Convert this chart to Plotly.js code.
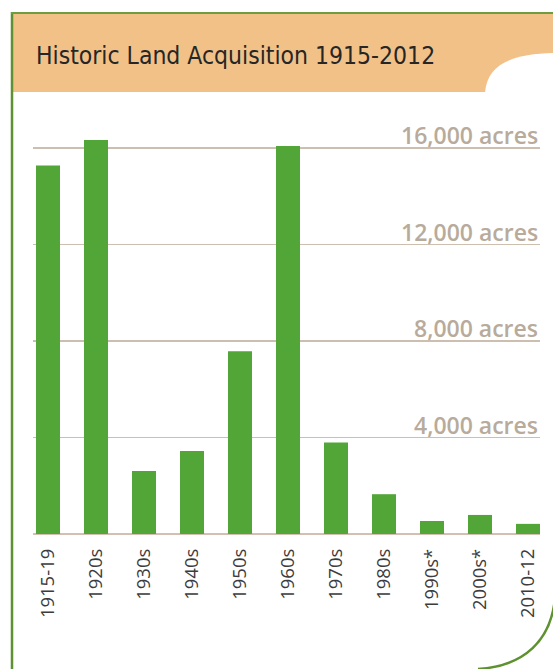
<!DOCTYPE html>
<html>
<head>
<meta charset="utf-8">
<script src="https://cdn.plot.ly/plotly-3.0.1.min.js"></script>
<style>html,body{margin:0;padding:0;background:#fff;}#chart{width:553px;height:669px;}</style>
</head>
<body>
<div id="chart"></div>
<script>
// Data
const periods = ["1915-19","1920s","1930s","1940s","1950s","1960s","1970s","1980s","1990s*","2000s*","2010-12"];
const acres = [15270, 16330, 2610, 3440, 7580, 16080, 3790, 1650, 540, 790, 420];
const gridValues = [4000, 8000, 12000, 16000];
const gridLabels = ["4,000 acres", "8,000 acres", "12,000 acres", "16,000 acres"];
const chartTitle = "Historic Land Acquisition 1915-2012";

const W = 553, H = 669;
const M = {l: 33, r: 13, t: 100, b: 135};
const pw = W - M.l - M.r, ph = H - M.t - M.b;
const px = x => (x - M.l) / pw;
const py = y => (H - M.b - y) / ph;

const shapes = [
  // header band
  {type: 'rect', xref: 'paper', yref: 'paper', x0: px(12), x1: px(553), y0: py(92), y1: py(13),
   fillcolor: '#f2c187', line: {width: 0}, layer: 'below'},
  // white blob top right
  {type: 'path', xref: 'paper', yref: 'paper',
   path: `M ${px(485)},${py(93)} C ${px(487)},${py(64)} ${px(512)},${py(54)} ${px(554)},${py(53)} L ${px(554)},${py(93)} Z`,
   fillcolor: '#ffffff', line: {width: 0}, layer: 'below'},
  // green frame left and top
  {type: 'line', xref: 'paper', yref: 'paper', x0: px(12), x1: px(12), y0: py(12), y1: py(670),
   line: {color: '#5e9130', width: 2.5}},
  {type: 'line', xref: 'paper', yref: 'paper', x0: px(11), x1: px(554), y0: py(13), y1: py(13),
   line: {color: '#6f9c3f', width: 2}},
  // bottom right curve
  {type: 'path', xref: 'paper', yref: 'paper',
   path: `M ${px(555)},${py(598)} C ${px(551)},${py(640)} ${px(525)},${py(666)} ${px(478)},${py(669)}`,
   line: {color: '#5e9130', width: 2.5}}
];

const annotations = gridValues.map((v, i) => ({
  x: 1, xref: 'paper', xanchor: 'right',
  y: v, yref: 'y', yanchor: 'bottom', yshift: -5,
  text: gridLabels[i], showarrow: false,
  font: {family: 'Open Sans', size: 23, color: '#b8ab9b', weight: 600}
}));

const trace = {
  type: 'bar', x: periods, y: acres,
  marker: {color: '#52a638', line: {width: 0}},
  width: 0.5, hoverinfo: 'skip'
};

const layout = {
  width: W, height: H,
  margin: M,
  paper_bgcolor: '#ffffff', plot_bgcolor: 'rgba(0,0,0,0)',
  showlegend: false,
  title: {text: chartTitle, xref: 'container', yref: 'container', x: 36 / W, xanchor: 'left',
          y: 1 - 55 / H, yanchor: 'middle',
          font: {family: '"DejaVu Sans Condensed", "Liberation Sans Narrow", Roboto, sans-serif', size: 24.5, color: '#262626', weight: 500}},
  xaxis: {type: 'category', range: [-0.3125, 10.25], tickangle: -90, showgrid: false,
          showline: false, zeroline: false, ticks: '', ticklabelstandoff: 10,
          tickfont: {family: 'Open Sans', size: 18.5, color: '#3c3c3c'}, fixedrange: true},
  yaxis: {range: [0, ph / (386 / 16000)], tickvals: gridValues, showticklabels: false,
          showgrid: true, gridcolor: '#cdbfb0', gridwidth: 1.5,
          zeroline: true, zerolinecolor: '#d4bfb2', zerolinewidth: 1.5, showline: false, fixedrange: true},
  shapes: shapes,
  annotations: annotations
};

Plotly.newPlot('chart', [trace], layout, {displayModeBar: false, staticPlot: true});
</script>
</body>
</html>
